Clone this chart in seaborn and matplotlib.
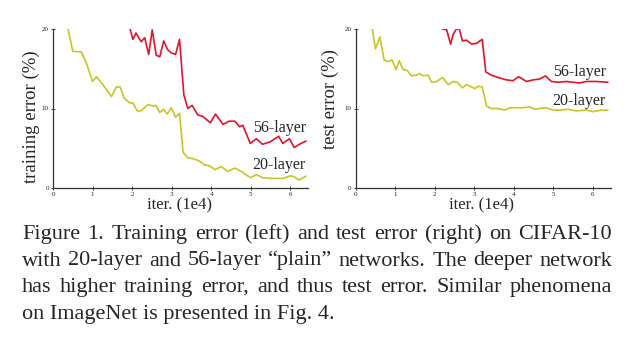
import matplotlib
matplotlib.use("Agg")
import matplotlib.pyplot as plt
import matplotlib.transforms as mtransforms
import pandas as pd
import seaborn as sns

# ---- data (iterations in 1e4, error in %) ----
train20_iter = [0.38, 0.5, 0.72, 0.86, 1.0, 1.1, 1.26, 1.48, 1.6, 1.7, 1.8, 1.94, 2.02, 2.13,
                2.23, 2.4, 2.53, 2.6, 2.7, 2.8, 2.89, 2.99, 3.1, 3.2, 3.29, 3.41, 3.54, 3.7,
                3.83, 3.96, 4.1, 4.25, 4.42, 4.6, 4.76, 4.93, 5.01, 5.14, 5.3, 5.56, 5.81,
                5.98, 6.07, 6.22, 6.4]
train20_err = [20.0, 17.2, 17.1, 15.5, 13.4, 14.0, 13.0, 11.5, 12.7, 12.7, 11.3, 10.7, 10.7, 9.7,
               9.7, 10.5, 10.3, 10.4, 9.5, 9.9, 9.3, 10.1, 8.9, 9.4, 4.5, 3.8, 3.7, 3.4,
               2.9, 2.8, 2.3, 2.7, 2.1, 2.5, 2.1, 1.5, 1.3, 1.7, 1.3, 1.2, 1.2,
               1.5, 1.5, 1.0, 1.5]

train56_iter = [1.95, 2.02, 2.1, 2.23, 2.32, 2.42, 2.51, 2.61, 2.7, 2.8, 2.9, 2.99, 3.1, 3.2,
                3.31, 3.41, 3.52, 3.66, 3.79, 3.98, 4.11, 4.3, 4.45, 4.6, 4.72, 4.8, 4.99,
                5.14, 5.3, 5.49, 5.71, 5.81, 5.98, 6.1, 6.27, 6.4]
train56_err = [20.0, 18.7, 19.5, 18.4, 18.9, 16.8, 19.9, 16.7, 16.5, 18.5, 17.4, 17.0, 16.8, 18.7,
               11.7, 10.0, 10.4, 9.2, 9.0, 8.2, 9.3, 8.0, 8.4, 8.4, 7.7, 7.9, 5.6,
               6.2, 5.5, 5.8, 6.5, 5.6, 6.2, 5.1, 5.6, 5.9]

test20_iter = [0.42, 0.5, 0.61, 0.72, 0.82, 0.92, 1.02, 1.1, 1.2, 1.3, 1.41, 1.54, 1.62, 1.71,
               1.83, 1.92, 2.05, 2.2, 2.34, 2.47, 2.57, 2.7, 2.8, 2.9, 3.01, 3.1, 3.2, 3.31,
               3.43, 3.6, 3.77, 3.9, 4.07, 4.23, 4.4, 4.53, 4.65, 4.8, 5.0, 5.16, 5.37, 5.58,
               5.83, 6.0, 6.21, 6.38]
test20_err = [20.0, 17.5, 19.0, 16.1, 15.9, 16.1, 14.9, 16.0, 14.9, 14.8, 14.1, 14.2, 14.4, 14.1,
              14.2, 13.3, 13.4, 13.9, 13.0, 13.4, 13.3, 12.6, 13.0, 12.8, 12.5, 12.8, 12.7, 10.3,
              10.0, 10.0, 9.8, 10.1, 10.1, 10.1, 10.2, 9.9, 10.0, 10.1, 9.8, 9.8, 9.9, 9.7,
              9.8, 9.6, 9.8, 9.8]

test56_iter = [2.19, 2.3, 2.4, 2.47, 2.55, 2.62, 2.7, 2.8, 2.93, 3.06, 3.2, 3.29, 3.43, 3.6,
               3.81, 3.98, 4.12, 4.32, 4.49, 4.65, 4.8, 4.95, 5.12, 5.33, 5.5, 5.66, 5.83,
               6.08, 6.38]
test56_err = [20.0, 19.9, 18.1, 19.4, 20.0, 20.0, 18.5, 18.6, 18.1, 18.2, 18.7, 14.6, 14.2, 13.9,
              13.6, 13.5, 14.0, 13.4, 13.6, 13.7, 14.1, 13.4, 13.3, 13.4, 13.3, 13.2, 13.4,
              13.4, 13.3]

caption_lines = [
    "Figure 1. Training error (left) and test error (right) on CIFAR-10",
    "with 20-layer and 56-layer \u201cplain\u201d networks. The deeper network",
    "has higher training error, and thus test error.  Similar phenomena",
    "on ImageNet is presented in Fig. 4.",
]

RED = "#e4132c"
YELLOW = "#c6c624"
SERIF = ["Liberation Serif", "DejaVu Serif"]

sns.set_style("ticks")
plt.rcParams["font.family"] = SERIF


def make_df(it, err):
    return pd.DataFrame({"iter": it, "err": err})


fig = plt.figure(figsize=(6.41, 3.58), dpi=100)
W, H = 641, 358

panels = [
    dict(left=53, label="training error (%)",
         d20=(train20_iter, train20_err), d56=(train56_iter, train56_err),
         lab56=7.55, lab20=2.9, labx=5.05, ylab=(-0.05, 0.447)),
    dict(left=355.7, label="test error (%)",
         d20=(test20_iter, test20_err), d56=(test56_iter, test56_err),
         lab56=14.6, lab20=10.9, labx=4.98, ylab=(-0.066, 0.56)),
]

for p in panels:
    ax = fig.add_axes([p["left"] / W, 1 - 188 / H, 255 / W, 159 / H])
    sns.lineplot(data=make_df(*p["d20"]), x="iter", y="err", color=YELLOW, lw=1.2, ax=ax)
    sns.lineplot(data=make_df(*p["d56"]), x="iter", y="err", color=RED, lw=1.2, ax=ax)
    ax.set_xlim(0, 6.45)
    ax.set_ylim(0, 20)
    ax.set_xticks([0, 1, 2, 3, 4, 5, 6])
    ax.set_yticks([0, 10, 20])
    ax.tick_params(direction="inout", length=3, width=0.6, labelsize=5, pad=1.5,
                   colors="#222222")
    for s in ["left", "bottom"]:
        ax.spines[s].set_color("#333333")
        ax.spines[s].set_linewidth(0.9)
    sns.despine(ax=ax)
    ax.set_ylabel(p["label"], fontsize=13.5)
    ax.yaxis.set_label_coords(*p["ylab"])
    ax.set_xlabel("iter. (1e4)", fontsize=12)
    ax.xaxis.set_label_coords(0.495, -0.057)
    ax.text(p["labx"], p["lab56"], "56-layer", fontsize=11.5, va="center", ha="left")
    ax.text(p["labx"], p["lab20"], "20-layer", fontsize=11.5, va="center", ha="left")

# ---- justified caption ----
renderer = fig.canvas.get_renderer()
ident = mtransforms.IdentityTransform()
x0, x1 = 22, 612
baselines = [239, 265.5, 292, 318.5]
cap_fs = 16

for i, (line, yb) in enumerate(zip(caption_lines, baselines)):
    ydisp = H - yb
    if i == len(caption_lines) - 1:
        fig.text(x0, ydisp, line, transform=ident, fontsize=cap_fs, va="baseline")
        continue
    words = line.split()
    objs = [fig.text(0, ydisp, w, transform=ident, fontsize=cap_fs, va="baseline")
            for w in words]
    widths = [o.get_window_extent(renderer).width for o in objs]
    gap = (x1 - x0 - sum(widths)) / (len(words) - 1)
    x = x0
    for o, w in zip(objs, widths):
        o.set_x(x)
        x += w + gap

fig.savefig("out.png", dpi=100)
